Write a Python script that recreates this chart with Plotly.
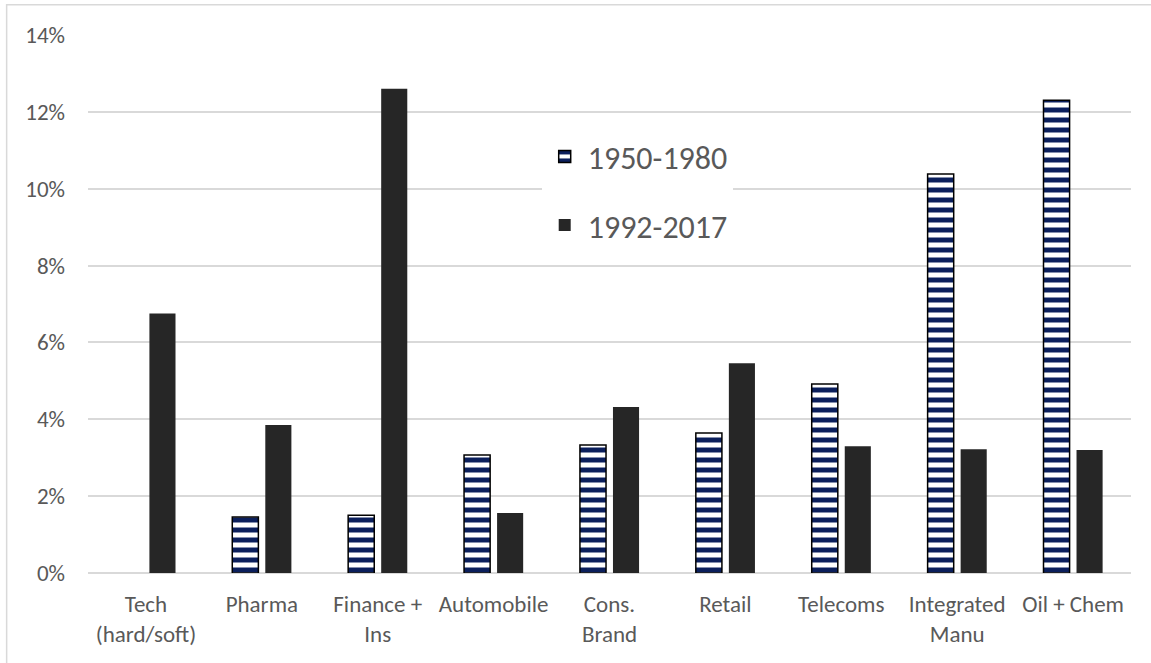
import plotly.graph_objects as go

categories = ["Tech<br>(hard/soft)", "Pharma", "Finance +<br>Ins", "Automobile",
              "Cons.<br>Brand", "Retail", "Telecoms", "Integrated<br>Manu", "Oil + Chem"]
series_1950_1980 = [None, 1.46, 1.50, 3.07, 3.33, 3.64, 4.92, 10.38, 12.30]
series_1992_2017 = [6.75, 3.85, 12.60, 1.56, 4.32, 5.46, 3.30, 3.22, 3.20]
ytick_vals = [0, 2, 4, 6, 8, 10, 12, 14]
ytick_text = ["0%", "2%", "4%", "6%", "8%", "10%", "12%", "14%"]

FONT = "Carlito, Lato, sans-serif"
TXT = "#595959"

fig = go.Figure()
fig.add_trace(go.Bar(
    x=categories, y=series_1950_1980, name="1950-1980", legendgroup="a",
    marker=dict(color="white",
                pattern=dict(shape="-", fgcolor="#0b1f5c", bgcolor="white",
                             size=10, solidity=0.5, fillmode="replace"),
                line=dict(color="black", width=1.5)),
))
fig.add_trace(go.Bar(
    x=categories, y=series_1992_2017, name="1992-2017", legendgroup="b",
    marker=dict(color="#262626", line=dict(color="#262626", width=0)),
))

fig.add_shape(type="rect", xref="paper", yref="paper",
              x0=-0.078, x1=1.05, y0=-0.2, y1=1.056,
              line=dict(color="#d9d9d9", width=1.5), fillcolor="rgba(0,0,0,0)",
              layer="below")

fig.update_layout(
    width=1151, height=663,
    margin=dict(l=88, r=20, t=35, b=90),
    paper_bgcolor="white", plot_bgcolor="white",
    barmode="group", bargap=0.43, bargroupgap=0.21,
    font=dict(family=FONT, color=TXT, size=23),
    showlegend=True,
    legend=dict(x=0.435, y=0.825, xanchor="left", yanchor="top",
                bgcolor="white", font=dict(size=32, color=TXT, family=FONT),
                traceorder="grouped", tracegroupgap=24,
                itemwidth=36),
    xaxis=dict(showgrid=False, showline=False, ticks="", tickfont=dict(size=23),
               ticklabelstandoff=15),
    yaxis=dict(range=[0, 14], tickvals=ytick_vals, ticktext=ytick_text,
               showgrid=True, gridcolor="#d9d9d9", gridwidth=1.5,
               zeroline=True, zerolinecolor="#d9d9d9", zerolinewidth=1.5,
               showline=False, ticks="", tickfont=dict(size=23),
               ticklabelstandoff=22),
)

fig.write_html("out.html")
